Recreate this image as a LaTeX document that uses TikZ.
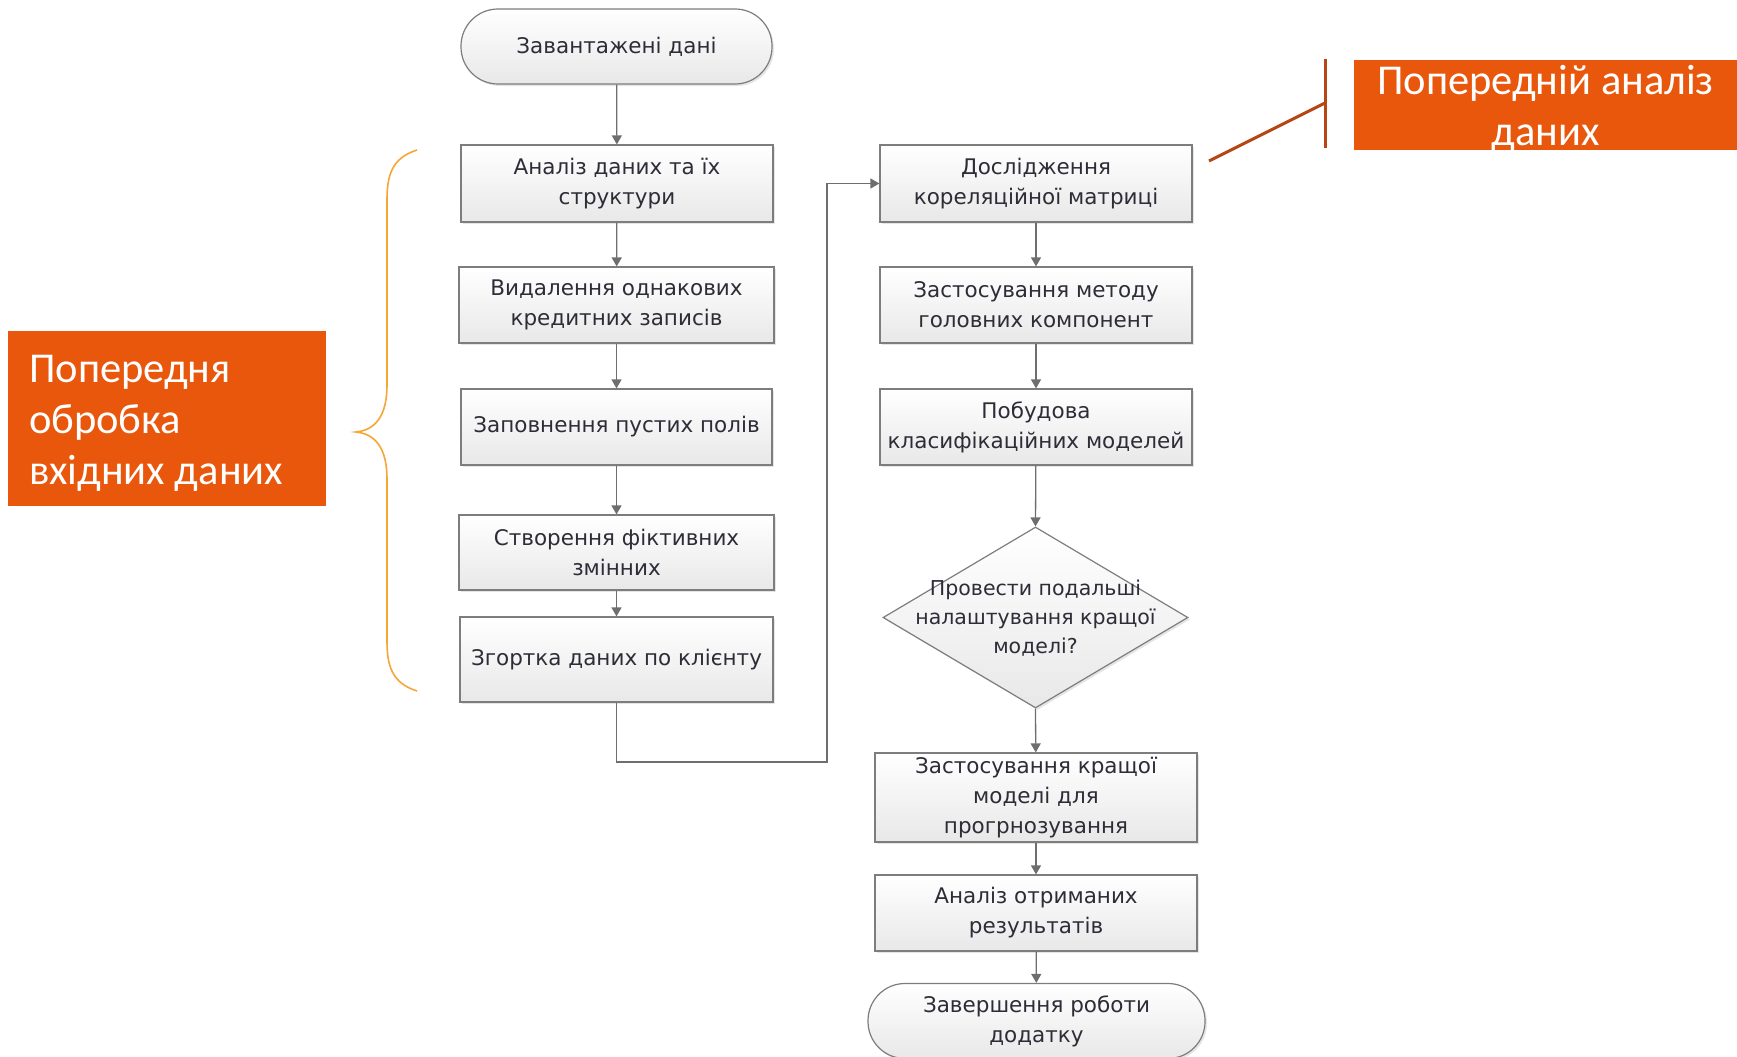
\documentclass[tikz,border=0pt]{standalone}
\usepackage{fontspec}
\setmainfont{DejaVu Sans}
\newfontfamily\labelfont{Carlito}
\usetikzlibrary{arrows.meta,shadows,shapes.geometric}
\definecolor{boxline}{RGB}{125,125,125}
\definecolor{boxtext}{RGB}{45,45,55}
\definecolor{conn}{RGB}{110,110,110}
\definecolor{orangefill}{RGB}{232,87,12}
\definecolor{bracecol}{RGB}{247,165,53}
\definecolor{pointer}{RGB}{183,71,18}
\tikzset{
  flowbox/.style={draw=boxline, line width=1.2pt, top color=white, bottom color=black!9,
    text=boxtext, font=\fontsize{21.5}{30}\selectfont, align=center, inner sep=0pt,
    drop shadow={shadow xshift=2pt, shadow yshift=-2pt, opacity=0.25, fill=black!40}},
  termbox/.style={flowbox, rounded corners=37pt},
  flowtext/.style={text=boxtext, font=\fontsize{20.5}{29}\selectfont, align=center, inner sep=0pt},
  conline/.style={draw=conn, line width=1.3pt},
  conarrow/.style={conline, -{Triangle[length=9pt,width=10pt]}},
  tagbox/.style={fill=orangefill, inner sep=0pt},
  tagtext/.style={text=white, inner sep=0pt, font=\labelfont\fontsize{42.5}{51}\selectfont}
}
\begin{document}
\begin{tikzpicture}[x=1pt, y=-1pt]
\useasboundingbox (0,0) rectangle (1737,1057);
% left column
\node[termbox, minimum width=311pt, minimum height=75pt] (start) at (616.5,46.5) {Завантажені дані};
\node[flowbox, minimum width=312pt, minimum height=77pt] (b1) at (617,183.5) {Аналіз даних та їх\\структури};
\node[flowbox, minimum width=315pt, minimum height=76pt] (b2) at (616.5,305) {Видалення однакових\\кредитних записів};
\node[flowbox, minimum width=311pt, minimum height=76pt] (b3) at (616.5,427) {Заповнення пустих полів};
\node[flowbox, minimum width=315pt, minimum height=75pt] (b4) at (616.5,552.5) {Створення фіктивних\\змінних};
\node[flowbox, minimum width=313pt, minimum height=85pt] (b5) at (616.5,659.5) {Згортка даних по клієнту};
% right column
\node[flowbox, minimum width=312pt, minimum height=77pt] (r1) at (1036,183.5) {Дослідження\\кореляційної матриці};
\node[flowbox, minimum width=312pt, minimum height=76pt] (r2) at (1036,305) {Застосування методу\\головних компонент};
\node[flowbox, minimum width=312pt, minimum height=76pt] (r3) at (1036,427) {Побудова\\класифікаційних моделей};
\node[diamond, draw=boxline, line width=1.2pt, top color=white, bottom color=black!9,
  minimum width=305pt, minimum height=181pt, inner sep=0pt,
  drop shadow={shadow xshift=2pt, shadow yshift=-2pt, opacity=0.25, fill=black!40}] (dia) at (1035.5,617.5) {};
\node[flowtext] (diatext) at (1035.5,618) {Провести подальші\\налаштування кращої\\моделі?};
\node[flowbox, minimum width=322pt, minimum height=89pt] (r4) at (1036,797.5) {Застосування кращої\\моделі для\\прогрнозування};
\node[flowbox, minimum width=322pt, minimum height=76pt] (r5) at (1036,913) {Аналіз отриманих\\результатів};
\node[termbox, minimum width=337pt, minimum height=75pt] (end) at (1036.5,1021) {Завершення роботи\\додатку};
% connectors
\draw[conarrow] (start) -- (b1);
\draw[conarrow] (b1) -- (b2);
\draw[conarrow] (b2) -- (b3);
\draw[conarrow] (b3) -- (b4);
\draw[conarrow] (b4) -- (b5);
\coordinate (turn) at (827,762);
\draw[conarrow] (b5.south) -- (b5.south |- turn) -- (turn) -- (turn |- r1.west) -- (r1.west);
\draw[conarrow] (r1) -- (r2);
\draw[conarrow] (r2) -- (r3);
\draw[conarrow] (r3) -- (dia.north);
\draw[conarrow] (dia.south) -- (r4);
\draw[conarrow] (r4) -- (r5);
\draw[conarrow] (r5) -- (end);
% left label and brace
\node[tagbox, minimum width=318pt, minimum height=175pt] (tagleft) at (167,418) {};
\node[tagtext, align=left, anchor=north west] (tagleftText) at (29,355) {Попередня\\обробка\\вхідних даних};
\coordinate (brtop) at (417,150);
\coordinate (brbot) at (417,691);
\coordinate (brtip) at (356,432);
\draw[bracecol, line width=1.6pt] (brtop) .. controls (392,158) and (387,175) .. (387,200)
  -- (387,385) .. controls (387,415) and (376,430) .. (brtip)
  .. controls (376,434) and (387,449) .. (387,479)
  -- (387,641) .. controls (387,666) and (392,683) .. (brbot);
% right label and pointer
\node[tagbox, minimum width=383pt, minimum height=90pt] (tagright) at (1545.5,105) {};
\node[tagtext, align=center, anchor=north] (tagrightText) at (1545.5,65) {Попередній аналіз\\даних};
\coordinate (ptop) at (1325,59);
\coordinate (pbot) at (1325,148);
\coordinate (pmid) at (1325,103);
\coordinate (pend) at (1209,161);
\draw[pointer, line width=3pt] (ptop) -- (pbot);
\draw[pointer, line width=3pt] (pmid) -- (pend);
\end{tikzpicture}
\end{document}
